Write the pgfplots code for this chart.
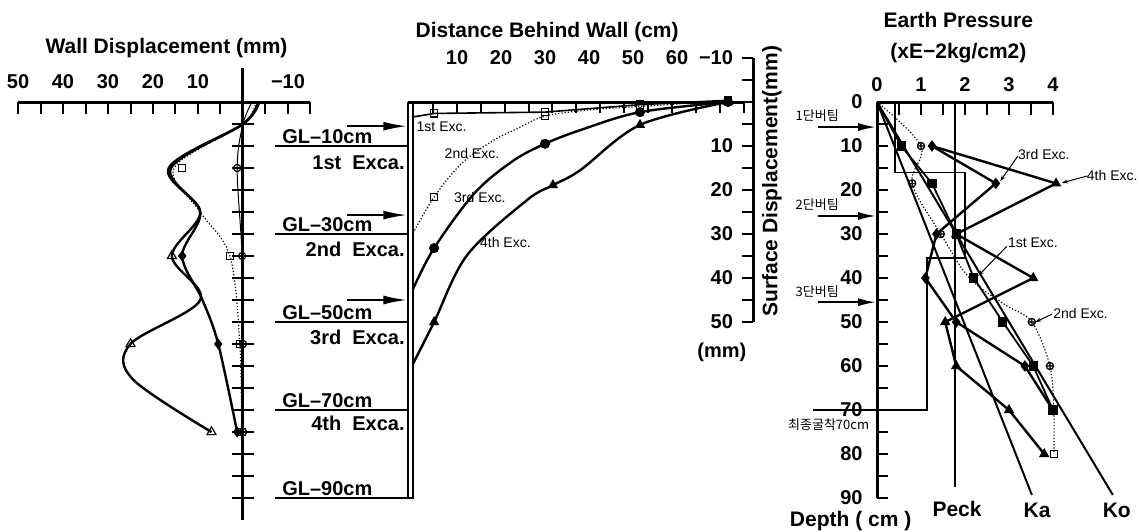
\documentclass[border=0pt]{standalone}
\usepackage{pgfplots}
\pgfplotsset{compat=1.18}
\usepackage{fontspec}
\setmainfont{Liberation Sans}
\newfontfamily\kr{Noto Sans CJK KR}
\usetikzlibrary{arrows.meta}
\tikzset{
  lab/.style={font=\bfseries\fontsize{10}{12}\selectfont, inner sep=0pt},
  ttl/.style={font=\bfseries\fontsize{10.5}{12}\selectfont, inner sep=0pt},
  sm/.style={font=\fontsize{7}{8}\selectfont, inner sep=0pt},
  krs/.style={font=\kr\fontsize{6.5}{8}\selectfont, inner sep=0pt},
  ax/.style={line width=1.5pt},
  tk/.style={line width=1pt},
  strut/.style={line width=1.1pt,-{Latex[length=12pt,width=4.5pt]}},
  lead/.style={line width=0.5pt,-{Stealth[length=3pt,width=2pt]}},
}
\pgfplotsset{
  thickc/.style={line width=1.2pt, smooth, tension=0.55, black, mark=none},
  thinc/.style={line width=0.5pt, smooth, tension=0.55, black, mark=none},
  dotc/.style={line width=0.6pt, densely dotted, smooth, tension=0.55, black, mark=none},
  mk/.style={only marks, black, mark size=#1, mark options={solid, line width=0.6pt}},
}
\begin{document}
\begin{tikzpicture}
\useasboundingbox (0,0) rectangle (570pt,265.5pt);
%====================== Wall displacement
\begin{axis}[at={(121.5pt,214.5pt)}, anchor=origin, scale only axis,
  width=146.25pt, height=233.2pt, x dir=reverse, y dir=reverse,
  xmin=-15, xmax=50, ymin=-10, ymax=96, hide axis, clip=false]
\draw[ax] (axis cs:50,0) -- (axis cs:-15,0);
\draw[ax] (axis cs:0,-7.7) -- (axis cs:0,95);
\pgfplotsinvokeforeach{-15,-10,...,50}{\draw[tk] (axis cs:#1,0) -- (axis cs:#1,2.7);}
\pgfplotsinvokeforeach{5,10,...,90}{\draw[tk] (axis cs:2.4,#1) -- (axis cs:-2.4,#1);}
\pgfplotsinvokeforeach{10,20,30,40,50}{\node[lab,anchor=base] at (axis cs:#1,-3) {#1};}
\node[lab,anchor=base] at (axis cs:-10,-3) {−10};
\node[ttl] at (axis cs:17,-12.3) {Wall Displacement (mm)};
% 4th
\addplot[thickc] coordinates {(-3.6,0) (0,5) (16.5,15) (9.5,25) (15.8,35) (9.5,45) (25,55) (24.5,63) (7,75)};
\addplot[mk=2.6pt, mark=triangle] coordinates {(15.8,35) (25,55) (7,75)};
% 3rd
\addplot[thickc] coordinates {(-3.3,0) (0,5) (16,15) (9.5,25) (13.5,35) (9,45) (5.5,55) (1.3,75)};
\addplot[mk=2.3pt, mark=diamond*] coordinates {(13.5,35) (5.5,55) (1.3,75)};
% 2nd
\addplot[dotc] coordinates {(-2.8,0) (0,5) (15.3,15) (9.5,25) (2.9,35) (0.7,55) (0.3,75)};
\addplot[mk=1.8pt, mark=square] coordinates {(13.6,15) (2.9,35) (0.7,55) (0.3,75)};
% 1st
\addplot[thinc] coordinates {(-2,0) (0,5) (1.3,15) (0.2,35) (0,55) (0,75)};
\addplot[mk=1.8pt, mark=o] coordinates {(1.3,15) (0.2,35) (0,55) (0,75)};
\end{axis}
%====================== Surface displacement
\begin{axis}[at={(206.5pt,214.5pt)}, anchor=origin, scale only axis,
  width=257.4pt, height=237.6pt, y dir=reverse,
  xmin=-32, xmax=85, ymin=-12, ymax=96, hide axis, clip=false]
\draw[ax] (axis cs:-1.1,0) -- (axis cs:75.2,0);
\draw[line width=0.9pt] (axis cs:-1.1,0) -- (axis cs:-1.1,90) -- (axis cs:0,90) -- (axis cs:0,0);
\pgfplotsinvokeforeach{4.5,9.9,15.4,20.8,26.3,31.7,37.1,42.6,48.0,53.5,58.9,64.3,69.8,75.2}{\draw[tk] (axis cs:#1,0) -- (axis cs:#1,2.5);}
\pgfplotsinvokeforeach{10,20,...,60}{\node[lab,anchor=base] at (axis cs:#1,-8.6) {#1};}
\node[ttl] at (axis cs:30.5,-15.9) {Distance Behind Wall (cm)};
% vertical axis
\draw[ax] (axis cs:77.3,-10) -- (axis cs:77.3,50);
\pgfplotsinvokeforeach{-10,-5,...,50}{\draw[tk] (axis cs:74.8,#1) -- (axis cs:77.3,#1);}
\pgfplotsinvokeforeach{10,20,...,50}{\node[lab,anchor=east] at (axis cs:72.8,#1) {#1};}
\node[lab,anchor=east] at (axis cs:72.8,-10) {−10};
\node[ttl,rotate=90] at (axis cs:81.6,18) {Surface Displacement(mm)};
\node[lab] at (axis cs:70.2,57) {(mm)};
% GL lines
\pgfplotsinvokeforeach{10,30,50,70,90}{\draw[line width=0.8pt] (axis cs:-31.4,#1) -- (axis cs:-1.1,#1);}
\node[lab,anchor=base west] at (axis cs:-29.8,9.5) {GL–10cm};
\node[lab,anchor=base west] at (axis cs:-29.8,29.5) {GL–30cm};
\node[lab,anchor=base west] at (axis cs:-29.8,49.5) {GL–50cm};
\node[lab,anchor=base west] at (axis cs:-29.8,69.5) {GL–70cm};
\node[lab,anchor=base west] at (axis cs:-29.8,89.5) {GL–90cm};
\node[lab,anchor=east] at (axis cs:-1.8,13.9) {1st\ \ Exca.};
\node[lab,anchor=east] at (axis cs:-1.8,33.6) {2nd\ \ Exca.};
\node[lab,anchor=east] at (axis cs:-1.8,53.4) {3rd\ \ Exca.};
\node[lab,anchor=east] at (axis cs:-1.8,73.0) {4th\ \ Exca.};
\draw[strut] (axis cs:-15,5.5) -- (axis cs:-1.3,5.5);
\draw[strut] (axis cs:-15,25.7) -- (axis cs:-1.3,25.7);
\draw[strut] (axis cs:-15,45) -- (axis cs:-1.3,45);
% 1st
\addplot[line width=0.8pt, black, mark=none] coordinates {(0,3.4) (4.8,2.6) (30,2.3) (51.6,0.6) (71.6,-0.4)};
\addplot[mk=1.8pt, mark=square] coordinates {(4.8,2.6) (30,2.3) (51.6,0.6) (71.6,-0.4)};
% 2nd
\addplot[dotc] coordinates {(0,29.8) (4.8,21.6) (11,14) (18,8.9) (24,5.9) (30,3.2) (40,1.8) (51.6,1) (71.6,-0.3)};
\addplot[mk=1.8pt, mark=square] coordinates {(4.8,21.6) (30,3.2) (51.6,1) (71.6,-0.3)};
% 3rd
\addplot[thickc] coordinates {(0,42.5) (4.8,33.2) (14,20.7) (22.7,13.4) (30,9.5) (38,6.4) (51.6,2.3) (71.6,0)};
\addplot[mk=2.2pt, mark=*] coordinates {(4.8,33.2) (30,9.5) (51.6,2.3) (71.6,0)};
% 4th
\addplot[thickc] coordinates {(0,59.5) (4.8,50) (12.3,34.8) (25.9,22.3) (31.8,18.9) (38,15.5) (51.6,5.2) (71.6,0)};
\addplot[mk=2.4pt, mark=triangle*] coordinates {(4.8,50) (31.8,18.9) (51.6,5.2) (71.6,0)};
\node[sm] at (axis cs:6.5,5.6) {1st Exc.};
\node[sm] at (axis cs:13.4,11.8) {2nd Exc.};
\node[sm] at (axis cs:15.2,21.6) {3rd Exc.};
\node[sm] at (axis cs:21,32) {4th Exc.};
\end{axis}
%====================== Earth pressure
\begin{axis}[at={(438.5pt,214.5pt)}, anchor=origin, scale only axis,
  width=176pt, height=255.2pt, y dir=reverse,
  xmin=-2, xmax=6, ymin=-20, ymax=96, hide axis, clip=false]
\draw[ax] (axis cs:0,0) -- (axis cs:4,0);
\draw[ax] (axis cs:0,0) -- (axis cs:0,90);
\pgfplotsinvokeforeach{0.5,1,...,4}{\draw[tk] (axis cs:#1,0) -- (axis cs:#1,3);}
\pgfplotsinvokeforeach{5,10,...,90}{\draw[tk] (axis cs:0,#1) -- (axis cs:0.25,#1);}
\pgfplotsinvokeforeach{0,1,2,3,4}{\node[lab,anchor=base] at (axis cs:#1,-2.3) {#1};}
\pgfplotsinvokeforeach{0,10,...,90}{\node[lab,anchor=east] at (axis cs:-0.32,#1) {#1};}
\node[ttl] at (axis cs:1.85,-18.6) {Earth Pressure};
\node[ttl] at (axis cs:1.85,-11.1) {(xE−2kg/cm2)};
\node[ttl] at (axis cs:-0.6,95.2) {Depth ( cm )};
% step outline, Peck
\draw[line width=0.8pt] (axis cs:-1.45,70) -- (axis cs:1.13,70) -- (axis cs:1.13,35.5) -- (axis cs:2.0,35.5) -- (axis cs:2.0,16) -- (axis cs:0.41,16) -- (axis cs:0.41,0);
\draw[line width=0.8pt] (axis cs:1.77,0) -- (axis cs:1.77,87.5);
\addplot[line width=1pt, black, mark=none] coordinates {(0,0) (3.52,89.3)};
\addplot[line width=1pt, black, mark=none] coordinates {(0,0) (5.36,89.3)};
\node[ttl] at (axis cs:1.82,92.4) {Peck};
\node[ttl] at (axis cs:3.64,92.8) {Ka};
\node[ttl] at (axis cs:5.45,92.8) {Ko};
% struts
\node[krs] at (axis cs:-1.36,3.0) {1단버팀};
\node[krs] at (axis cs:-1.36,23.4) {2단버팀};
\node[krs] at (axis cs:-1.36,43.2) {3단버팀};
\node[krs] at (axis cs:-1.1,73.4) {최종굴착70cm};
\draw[line width=1pt,-{Latex[length=9pt,width=4pt]}] (axis cs:-1.34,5.7) -- (axis cs:-0.02,5.7);
\draw[line width=1pt,-{Latex[length=9pt,width=4pt]}] (axis cs:-1.34,25.9) -- (axis cs:-0.02,25.9);
\draw[line width=1pt,-{Latex[length=9pt,width=4pt]}] (axis cs:-1.34,45.5) -- (axis cs:-0.02,45.5);
% 1st
\addplot[line width=0.9pt, black, mark=none] coordinates {(0,0) (0.55,10) (1.25,18.5) (1.8,30) (2.2,40) (2.86,50) (3.55,60) (4.0,70)};
\addplot[mk=2pt, mark=square*] coordinates {(0.55,10) (1.25,18.5) (1.8,30) (2.2,40) (2.86,50) (3.55,60) (4.0,70)};
% 2nd
\addplot[dotc] coordinates {(0,0) (1.0,10) (0.8,18.5) (1.45,30) (2.1,40) (2.9,46) (3.52,50) (3.93,60) (4.02,70) (4.02,80)};
\addplot[mk=1.8pt, mark=oplus] coordinates {(1.0,10) (0.8,18.5) (1.45,30) (3.52,50) (3.93,60)};
\addplot[mk=1.8pt, mark=square] coordinates {(4.02,80)};
% 3rd
\addplot[line width=1.2pt, black, mark=none] coordinates {(1.25,10) (2.7,18.5) (1.35,30) (1.1,40) (1.8,50) (3.36,60) (4.0,70)};
\addplot[mk=2.4pt, mark=diamond*] coordinates {(1.25,10) (2.7,18.5) (1.35,30) (1.1,40) (1.8,50) (3.36,60) (4.0,70)};
% 4th
\addplot[line width=1.2pt, black, mark=none] coordinates {(1.25,10) (4.07,18.5) (1.8,30) (3.55,40) (1.55,50) (1.8,60) (3.0,70) (3.8,80)};
\addplot[mk=2.4pt, mark=triangle*] coordinates {(4.07,18.5) (1.8,30) (3.55,40) (1.55,50) (1.8,60) (3.0,70) (3.8,80)};
% labels
\node[sm,anchor=west] at (axis cs:3.2,12) {3rd Exc.};
\draw[lead] (axis cs:3.2,12.3) -- (axis cs:2.8,18);
\node[sm,anchor=east] at (axis cs:5.93,16.6) {4th Exc.};
\draw[lead] (axis cs:4.78,16.8) -- (axis cs:4.2,18.4);
\node[sm,anchor=west] at (axis cs:2.97,32) {1st Exc.};
\draw[lead] (axis cs:2.95,32.8) -- (axis cs:2.3,39.5);
\node[sm,anchor=west] at (axis cs:4.0,48) {2nd Exc.};
\draw[lead] (axis cs:3.98,48.2) -- (axis cs:3.6,50);
\end{axis}
\end{tikzpicture}
\end{document}
